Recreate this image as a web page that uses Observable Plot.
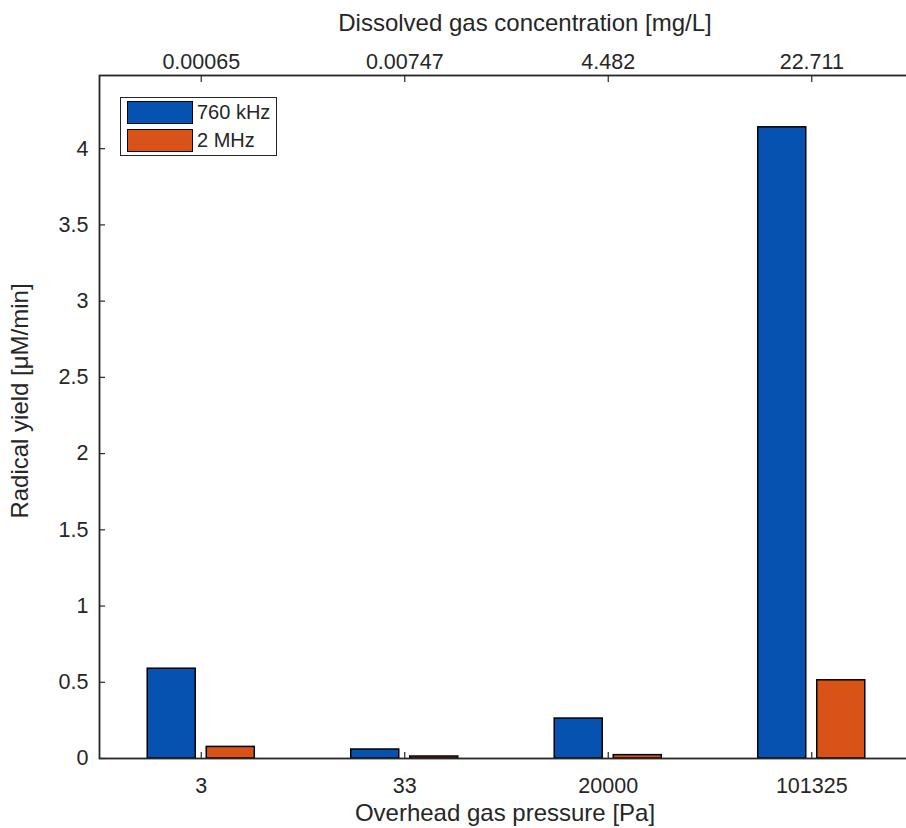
<!DOCTYPE html>
<html><head><meta charset="utf-8">
<script src="https://cdn.jsdelivr.net/npm/d3@7"></script>
<script src="https://cdn.jsdelivr.net/npm/@observablehq/plot@0.6"></script>
<style>
body{margin:0;background:#fff;overflow:hidden;}
#wrap{position:relative;width:906px;height:828px;overflow:hidden;font-family:"Liberation Sans",Arial,sans-serif;color:#262626;}
#wrap svg{max-width:none !important;width:916px;height:828px;display:block;}
#legend{position:absolute;left:120px;top:97px;width:157px;height:59px;border:1.5px solid #262626;background:#fff;box-sizing:border-box;}
.sw{position:absolute;left:6px;width:66px;height:23px;border:1.5px solid #000;box-sizing:border-box;}
.lt{position:absolute;left:76px;font-size:20px;line-height:23px;white-space:nowrap;}
</style>
</head><body>
<div id="wrap"></div>
<script>
const cats = ["3","33","20000","101325"];
const conc = ["0.00065","0.00747","4.482","22.711"];
const series = ["760 kHz","2 MHz"];
const colors = ["#0552b0","#d95319"];
const y760 = [0.589, 0.059, 0.262, 4.14];
const y2M = [0.076, 0.013, 0.022, 0.513];
const yTicks = [0,0.5,1,1.5,2,2.5,3,3.5,4];

const data = cats.flatMap((c,i)=>[
  {i:i+1, s:series[0], v:y760[i]},
  {i:i+1, s:series[1], v:y2M[i]}
]);
const inner = 0.027, outer = 0.263;
const plot = Plot.plot({
  width:916, height:828,
  marginLeft:99, marginRight:3, marginTop:75, marginBottom:70,
  style:{fontFamily:'"Liberation Sans",Arial,sans-serif', fontSize:"21.5px", color:"#262626", background:"#fff", overflow:"visible"},
  x:{type:"linear", domain:[0.5,4.5]},
  y:{domain:[0,4.48]},
  color:{domain:series, range:colors},
  marks:[
    Plot.rect(data,{
      x1:d=>d.i + (d.s===series[0] ? -outer : inner),
      x2:d=>d.i + (d.s===series[0] ? -inner : outer),
      y1:0, y2:"v", fill:"s", stroke:"#000", strokeWidth:1.5
    }),
    Plot.axisY({ticks:yTicks, tickSize:-6, tickPadding:17, tickFormat:d=>String(d), label:null, strokeWidth:1.2}),
    Plot.axisY({anchor:"right", ticks:yTicks, tickSize:-6, tickFormat:()=>"", label:null, strokeWidth:1.2}),
    Plot.axisX({anchor:"bottom", ticks:[1,2,3,4], tickFormat:i=>cats[i-1], tickSize:-6, tickPadding:25.5, label:null, strokeWidth:1.2}),
    Plot.axisX({anchor:"top", ticks:[1,2,3,4], tickFormat:i=>conc[i-1], tickSize:-6, tickPadding:13, label:null, strokeWidth:1.2}),
    Plot.frame({stroke:"#262626", strokeWidth:1.8})
  ]
});
const wrap = document.getElementById("wrap");
wrap.appendChild(plot);
const svg = d3.select(plot);
svg.append("text").attr("x",525).attr("y",31).attr("text-anchor","middle")
  .attr("fill","#262626").style("font-size","24px").text("Dissolved gas concentration [mg/L]");
svg.append("text").attr("x",505).attr("y",821).attr("text-anchor","middle")
  .attr("fill","#262626").style("font-size","24px").text("Overhead gas pressure [Pa]");
svg.append("text").attr("transform","translate(28,401) rotate(-90)").attr("text-anchor","middle")
  .attr("fill","#262626").style("font-size","24px").text("Radical yield [\u03BCM/min]");

const leg = document.createElement("div");
leg.id = "legend";
series.forEach((s,k)=>{
  const sw = document.createElement("div");
  sw.className = "sw"; sw.style.top = (3 + k*28) + "px"; sw.style.background = colors[k];
  const t = document.createElement("div");
  t.className = "lt"; t.style.top = (3 + k*28) + "px"; t.textContent = s;
  leg.appendChild(sw); leg.appendChild(t);
});
wrap.appendChild(leg);
</script>
</body></html>
